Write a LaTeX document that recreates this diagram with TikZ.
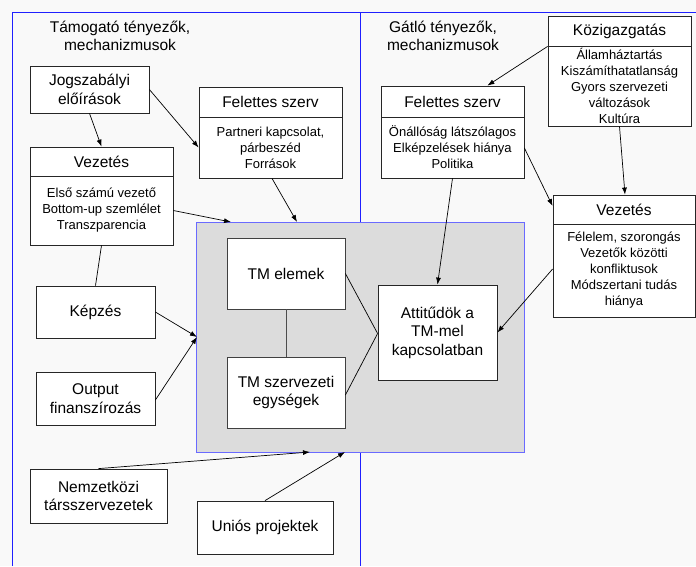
\documentclass[tikz,border=0pt]{standalone}
\usepackage{fontspec}
\setmainfont{Liberation Sans}
\usetikzlibrary{arrows.meta}
\definecolor{bg}{HTML}{F9F9F9}
\definecolor{tmgray}{HTML}{DCDCDC}
\definecolor{frameblue}{HTML}{2020FF}
\definecolor{tmblue}{HTML}{6A6AFF}
\begin{document}
\begin{tikzpicture}[x=1pt,y=-1pt,
  box/.style={draw=black!85, fill=white, line width=0.8pt, inner sep=0pt, align=center},
  hdr/.style={box, font=\fontsize{15.5}{18.5}\selectfont},
  bod/.style={box, font=\fontsize{13}{16}\selectfont},
  ttl/.style={align=center, inner sep=0pt, font=\fontsize{15.5}{18.5}\selectfont},
  conn/.style={line width=0.7pt, black},
  arr/.style={conn, -{Latex[length=7pt,width=5pt]}}]
% background and frame
\fill[bg] (0,0) rectangle (696,566);
\useasboundingbox (0,0) rectangle (696,566);
\draw[frameblue, line width=1pt] (12,566) -- (12,12) -- (696,12);
\draw[frameblue, line width=1pt] (360,12) -- (360,566);
% central gray area
\node[fill=tmgray, draw=tmblue, line width=1pt, minimum width=328pt, minimum height=230pt, inner sep=0pt] (tm) at (360,337) {};
\coordinate (g1) at (297,222);
\coordinate (g2) at (231,222);
\coordinate (g3) at (197,337);
\coordinate (g4) at (310,452);
\coordinate (g5) at (345,452);
% titles
\node[ttl] (tl) at (120,36) {Támogató tényezők,\\mechanizmusok};
\node[ttl] (tr) at (443,36) {Gátló tényezők,\\mechanizmusok};
% left boxes
\node[hdr, minimum width=119pt, minimum height=47pt] (jog) at (89.5,89.5) {Jogszabályi\\előírások};
\node[hdr, minimum width=143pt, minimum height=30pt] (fsLh) at (270.5,102) {Felettes szerv};
\node[bod, minimum width=143pt, minimum height=61pt] (fsLb) at (270.5,147.5) {Partneri kapcsolat,\\párbeszéd\\Források};
\node[hdr, minimum width=143pt, minimum height=29pt] (vezLh) at (101.5,161.5) {Vezetés};
\node[bod, minimum width=143pt, minimum height=69pt] (vezLb) at (101.5,210.5) {Első számú vezető\\Bottom-up szemlélet\\Transzparencia};
\node[hdr, minimum width=119pt, minimum height=52pt] (kep) at (95.5,312) {Képzés};
\node[hdr, minimum width=119pt, minimum height=53pt] (out) at (95.5,398.5) {Output\\finanszírozás};
\node[hdr, minimum width=137pt, minimum height=54pt] (nem) at (98.5,496) {Nemzetközi\\társszervezetek};
\node[hdr, minimum width=136pt, minimum height=53pt] (uni) at (265,527.5) {Uniós projektek};
% inner boxes
\node[hdr, draw=black!75, minimum width=118pt, minimum height=71pt] (tme) at (286,273.5) {TM elemek};
\node[hdr, draw=black!75, minimum width=118pt, minimum height=71pt] (tms) at (286,392.5) {TM szervezeti\\egységek};
\node[hdr, minimum width=119pt, minimum height=95pt] (att) at (437.5,332.5) {Attitűdök a\\TM-mel\\kapcsolatban};
% right boxes
\node[hdr, minimum width=143pt, minimum height=30pt] (kozh) at (619.5,31) {Közigazgatás};
\node[bod, minimum width=143pt, minimum height=80pt] (kozb) at (619.5,86) {Államháztartás\\Kiszámíthatatlanság\\Gyors szervezeti\\változások\\Kultúra};
\node[hdr, minimum width=143pt, minimum height=31pt] (fsRh) at (452.5,101.5) {Felettes szerv};
\node[bod, minimum width=143pt, minimum height=61pt] (fsRb) at (452.5,147.5) {Önállóság látszólagos\\Elképzelések hiánya\\Politika};
\node[hdr, minimum width=142pt, minimum height=29pt] (vezRh) at (624,209.5) {Vezetés};
\node[bod, minimum width=142pt, minimum height=93pt] (vezRb) at (624,270.5) {Félelem, szorongás\\Vezetők közötti\\konfliktusok\\Módszertani tudás\\hiánya};
% connectors left
\draw[arr] (jog.south) -- (vezLh.north);
\draw[arr] (jog.east) -- (fsLb.west);
\draw[arr] ([xshift=1.5pt]fsLb.south) -- (g1);
\draw[arr] (vezLb.east) -- (g2);
\draw[conn] (vezLb.south) -- (kep.north);
\draw[arr] (kep.east) -- (g3);
\draw[arr] ([yshift=-1.5pt]out.east) -- (g3);
\draw[conn, black!70] (tme.south) -- (tms.north);
\draw[conn] (tme.east) -- ([yshift=-1pt]att.west);
\draw[conn] ([yshift=-2.5pt]tms.east) -- ([yshift=-1pt]att.west);
\draw[arr] (nem.north) -- (g4);
\draw[arr] (uni.north) -- (g5);
% connectors right
\draw[arr] (kozh.south west) -- ([xshift=-37pt]fsRh.north east);
\draw[arr] (kozb.south) -- ([xshift=1pt]vezRh.north);
\draw[arr] ([yshift=-0.5pt]fsRb.east) -- ([yshift=3.5pt]vezRh.west);
\draw[arr] (fsRb.south) -- (att.north);
\draw[arr] ([yshift=1.5pt]vezRb.west) -- (att.east);
\end{tikzpicture}
\end{document}
